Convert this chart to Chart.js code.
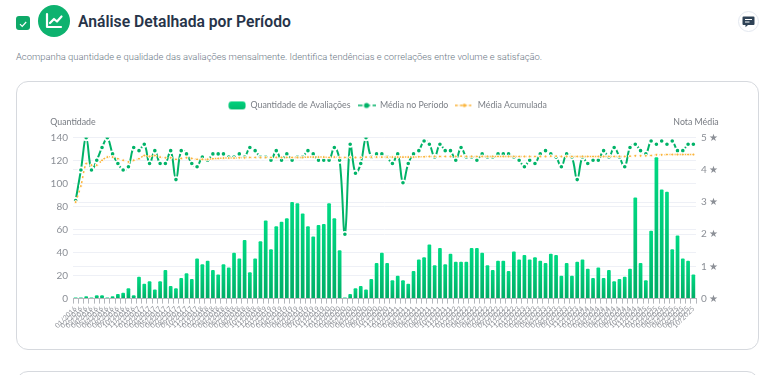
<!DOCTYPE html>
<html lang="pt-BR">
<head>
<meta charset="utf-8">
<title>Análise Detalhada por Período</title>
<script src="https://cdn.jsdelivr.net/npm/chart.js@4/dist/chart.umd.min.js"></script>
<style>
  html, body { margin: 0; width: 768px; height: 375px; overflow: hidden; background: #fff; font-family: Roboto, sans-serif; }
  .check { position: absolute; left: 16px; top: 16px; width: 14px; height: 14px; border-radius: 3px; background: #0ea968; }
  .badge { position: absolute; left: 38px; top: 5px; width: 32px; height: 32px; border-radius: 50%; background: #0db26f; }
  h1 { position: absolute; left: 78px; top: 11px; margin: 0; font-size: 15.7px; line-height: 22px; font-weight: 600; color: #273449; }
  .sub { position: absolute; left: 16px; top: 50px; margin: 0; font: 300 9.4px/14px Roboto, sans-serif; color: #6b7785; }
  .note { position: absolute; left: 738px; top: 11px; width: 19px; height: 19px; border: 1px solid #e3e8f0; border-radius: 50%; }
  .card { position: absolute; left: 16px; top: 81px; width: 741px; height: 267px; border: 1px solid #d6d9de; border-radius: 12px; }
  .card canvas { position: absolute; left: 0; top: 0; }
  .next { position: absolute; left: 16px; top: 371px; width: 741px; height: 40px; border: 1px solid #d6d9de; border-radius: 12px; }
</style>
</head>
<body>
<div class="check"><svg width="14" height="14" viewBox="0 0 14 14"><path d="M4 7.2l2.2 2.2L10.2 5" fill="none" stroke="#fff" stroke-width="1.2"/></svg></div>
<div class="badge"><svg width="32" height="32" viewBox="0 0 32 32"><path d="M9 9v13h14" fill="none" stroke="#fff" stroke-width="2.2" stroke-linecap="round" stroke-linejoin="round"/><path d="M12 18l4-4 3 2.5 4.5-5" fill="none" stroke="#fff" stroke-width="2.2" stroke-linecap="round" stroke-linejoin="round"/></svg></div>
<h1>Análise Detalhada por Período</h1>
<p class="sub">Acompanha quantidade e qualidade das avaliações mensalmente. Identifica tendências e correlações entre volume e satisfação.</p>
<div class="note"><svg width="19" height="19" viewBox="0 0 19 19"><path d="M4.5 4.5h10a1 1 0 0 1 1 1v6.5a1 1 0 0 1-1 1H9l-2.5 2.3V13H4.5a1 1 0 0 1-1-1V5.500a1 1 0 0 1 1-1z" fill="#2f4256"/><path d="M6 7.500h7M6 10h4.500" stroke="#fff" stroke-width="1"/></svg></div>
<div class="card"><canvas id="chart" width="741" height="267"></canvas></div>
<div class="next"></div>
<script>
const months = [
  '01/2016','02/2016','03/2016','04/2016','05/2016','06/2016','07/2016','08/2016','09/2016','10/2016','11/2016','12/2016',
  '01/2017','02/2017','03/2017','04/2017','05/2017','06/2017','07/2017','08/2017','09/2017','10/2017','11/2017','12/2017',
  '01/2018','02/2018','03/2018','04/2018','05/2018','06/2018','07/2018','08/2018','09/2018','10/2018','11/2018','12/2018',
  '01/2019','02/2019','03/2019','04/2019','05/2019','06/2019','07/2019','08/2019','09/2019','10/2019','11/2019','12/2019',
  '01/2020','02/2020','03/2020','04/2020','05/2020','06/2020','07/2020','08/2020','09/2020','10/2020','11/2020','12/2020',
  '01/2021','02/2021','03/2021','04/2021','05/2021','06/2021','07/2021','08/2021','09/2021','10/2021','11/2021','12/2021',
  '01/2022','02/2022','03/2022','04/2022','05/2022','06/2022','07/2022','08/2022','09/2022','10/2022','11/2022','12/2022',
  '01/2023','02/2023','03/2023','04/2023','05/2023','06/2023','07/2023','08/2023','09/2023','10/2023','11/2023','12/2023',
  '01/2024','02/2024','03/2024','04/2024','05/2024','06/2024','07/2024','08/2024','09/2024','10/2024','11/2024','12/2024',
  '01/2025','02/2025','03/2025','04/2025','05/2025','06/2025','07/2025','08/2025','09/2025','10/2025'
];
const quantidade = [
  1,1,2,1,3,3,1,2,4,5,9,3,19,13,15,8,15,25,11,9,
  18,22,17,35,30,33,25,21,30,27,40,35,51,23,35,50,68,43,63,67,
  70,84,83,74,63,54,64,65,83,70,42,1,4,9,11,8,17,31,40,31,
  16,20,16,13,24,34,36,47,29,44,30,39,32,32,32,44,44,40,29,25,
  33,33,24,41,34,38,34,36,33,31,39,38,20,31,20,32,34,26,18,27,
  18,25,15,17,19,26,88,31,16,59,123,95,93,43,55,35,33,21
];
const mediaPeriodo = [
  3.05,4.0,5.0,4.0,4.3,4.7,5.0,4.5,4.2,4.0,4.1,4.7,4.6,4.8,4.2,4.6,4.2,4.2,4.6,3.7,
  4.6,4.5,4.2,4.1,4.4,4.3,4.5,4.5,4.5,4.4,4.4,4.5,4.4,4.7,4.6,4.4,4.4,4.3,4.6,4.3,
  4.5,4.3,4.4,4.4,4.6,4.5,4.3,4.3,4.3,4.7,4.3,2.0,4.8,3.9,4.2,5.0,4.4,4.5,4.5,4.4,
  4.2,4.5,3.6,4.2,4.5,4.6,4.9,4.8,4.4,4.8,4.6,4.6,4.3,4.7,4.4,4.4,4.3,4.5,4.4,4.4,
  4.5,4.5,4.5,4.4,4.3,4.1,4.3,4.2,4.5,4.6,4.5,4.4,4.1,4.5,4.4,3.7,4.4,4.2,4.3,4.3,
  4.6,4.4,4.7,4.4,4.1,4.7,4.8,4.6,4.5,4.9,4.8,4.9,4.8,4.9,4.6,4.6,4.8,4.8
];
const mediaAcumulada = [
  3.0,3.5,4.2,4.15,4.15,4.3,4.4,4.4,4.35,4.3,4.25,4.3,4.35,4.45,4.42,4.45,4.4,4.38,4.38,4.33,
  4.36,4.38,4.36,4.33,4.33,4.33,4.35,4.36,4.37,4.37,4.37,4.38,4.38,4.39,4.39,4.39,4.39,4.39,4.39,4.39,
  4.39,4.39,4.39,4.39,4.4,4.4,4.4,4.4,4.39,4.4,4.39,4.39,4.39,4.39,4.39,4.4,4.4,4.4,4.4,4.4,
  4.4,4.4,4.4,4.4,4.4,4.41,4.41,4.42,4.42,4.42,4.42,4.42,4.42,4.43,4.42,4.42,4.42,4.42,4.42,4.42,
  4.42,4.42,4.42,4.42,4.42,4.42,4.42,4.42,4.42,4.42,4.43,4.43,4.42,4.42,4.42,4.42,4.42,4.42,4.42,4.42,
  4.42,4.42,4.42,4.42,4.42,4.43,4.44,4.44,4.44,4.45,4.47,4.47,4.48,4.48,4.48,4.48,4.48,4.48
];
const ticksEsquerda = [0,20,40,60,80,100,120,140];
const ticksDireita = [0,1,2,3,4,5];

const VERDE = '#00b368';
const LARANJA = '#fbb53c';
const CINZA = '#8b8f96';
const GRADE = '#eef0f6';
const fonte = 'Lato, sans-serif';

// legend swatches: rounded bar and line + dot, same look as the original
const swatch = (draw) => {
  const c = document.createElement('canvas');
  c.width = 18; c.height = 10;
  draw(c.getContext('2d'));
  return c;
};
const swatchBar = swatch((g) => {
  const grad = g.createLinearGradient(0, 0, 0, 10);
  grad.addColorStop(0, '#00d57f');
  grad.addColorStop(1, '#00b96c');
  g.fillStyle = grad;
  g.beginPath();
  g.roundRect(0.5, 1, 17, 8, 3);
  g.fill();
});
const swatchLine = (color, r, dash) => swatch((g) => {
  g.strokeStyle = color;
  g.lineWidth = 1.5;
  g.setLineDash(dash);
  g.beginPath();
  g.moveTo(0, 5);
  g.lineTo(18, 5);
  g.stroke();
  g.setLineDash([]);
  g.fillStyle = color;
  g.beginPath();
  g.arc(9, 5, r, 0, Math.PI * 2);
  g.fill();
});
const swatches = [swatchBar, swatchLine(VERDE, 2.6, [5, 2.5]), swatchLine(LARANJA, 1.8, [2.5, 2])];

// extra room between the legend and the plot
const legendGap = {
  id: 'legendGap',
  beforeInit(chart) {
    const fit = chart.legend.fit;
    chart.legend.fit = function () {
      fit.call(this);
      this.height += 18;
    };
  }
};

// the two axis captions sit above the axes, horizontally
const axisCaptions = {
  id: 'axisCaptions',
  afterDraw(chart) {
    const { ctx, scales } = chart;
    ctx.save();
    ctx.font = '8.8px ' + fonte;
    ctx.fillStyle = '#777b82';
    ctx.textBaseline = 'middle';
    ctx.textAlign = 'center';
    ctx.fillText('Quantidade', scales.y.right, 40);
    ctx.fillText('Nota Média', scales.yNota.left, 40);
    ctx.restore();
  }
};

// each bar has its own top-to-base gradient
const barGradient = (context) => {
  const { chart, parsed } = context;
  if (!chart.chartArea || !parsed) { return '#00c878' }
  const top = chart.scales.y.getPixelForValue(parsed.y);
  const g = chart.ctx.createLinearGradient(0, top, 0, chart.chartArea.bottom);
  g.addColorStop(0, '#00da83');
  g.addColorStop(1, '#00ac65');
  return g;
};

new Chart(document.getElementById('chart'), {
  type: 'bar',
  plugins: [legendGap, axisCaptions],
  data: {
    labels: months,
    datasets: [
      {
        type: 'line',
        label: 'Média Acumulada',
        data: mediaAcumulada,
        yAxisID: 'yNota',
        borderColor: LARANJA,
        backgroundColor: LARANJA,
        borderWidth: 1.5,
        borderDash: [2, 3],
        pointRadius: 1.5,
        pointHoverRadius: 2,
        pointBorderColor: '#fff',
        pointBorderWidth: 1,
        pointBackgroundColor: LARANJA,
        tension: 0.3,
        order: 1,
      },
      {
        type: 'line',
        label: 'Média no Período',
        data: mediaPeriodo,
        yAxisID: 'yNota',
        borderColor: VERDE,
        backgroundColor: VERDE,
        borderWidth: 2,
        pointRadius: 2.6,
        pointHoverRadius: 3,
        pointBorderColor: '#fff',
        pointBorderWidth: 1.6,
        pointBackgroundColor: VERDE,
        tension: 0.4,
        order: 2,
      },
      {
        label: 'Quantidade de Avaliações',
        data: quantidade,
        yAxisID: 'y',
        backgroundColor: barGradient,
        barPercentage: 0.7,
        categoryPercentage: 1,
        borderRadius: 1,
        order: 3,
      },
    ],
  },
  options: {
    responsive: false,
    animation: false,
    layout: { padding: { top: 12, bottom: 18, left: 0, right: 0 } },
    plugins: {
      tooltip: { enabled: false },
      legend: {
        position: 'top',
        labels: {
          usePointStyle: true,
          pointStyleWidth: 18,
          boxHeight: 9,
          padding: 7,
          color: CINZA,
          font: { family: fonte, size: 8.8 },
          generateLabels() {
            return ['Quantidade de Avaliações', 'Média no Período', 'Média Acumulada'].map((text, i) => ({
              text,
              pointStyle: swatches[i],
              datasetIndex: i,
              fontColor: '#7b7f86',
              lineWidth: 0,
            }));
          },
        },
      },
    },
    scales: {
      x: {
        grid: { drawOnChartArea: false, color: '#b4b7bc', tickLength: 5 },
        border: { color: '#b4b7bc' },
        ticks: {
          autoSkip: false,
          maxRotation: 45,
          minRotation: 45,
          padding: 1,
          color: '#94979d',
          font: { family: fonte, size: 7 },
        },
      },
      y: {
        position: 'left',
        min: 0,
        max: 140,
        afterBuildTicks(scale) { scale.ticks = ticksEsquerda.map((value) => ({ value })) },
        afterFit(scale) { scale.width = 56 },
        grid: { color: GRADE, drawTicks: false },
        border: { display: false },
        ticks: { padding: 5, color: CINZA, font: { family: fonte, size: 10 } },
      },
      yNota: {
        position: 'right',
        min: 0,
        max: 5,
        afterBuildTicks(scale) { scale.ticks = ticksDireita.map((value) => ({ value })) },
        afterFit(scale) { scale.width = 62 },
        grid: { color: GRADE, drawTicks: false },
        border: { display: false },
        ticks: {
          padding: 5,
          color: CINZA,
          font: { family: fonte, size: 10 },
          callback: (value) => value + ' ★',
        },
      },
    },
  },
});
</script>
</body>
</html>
